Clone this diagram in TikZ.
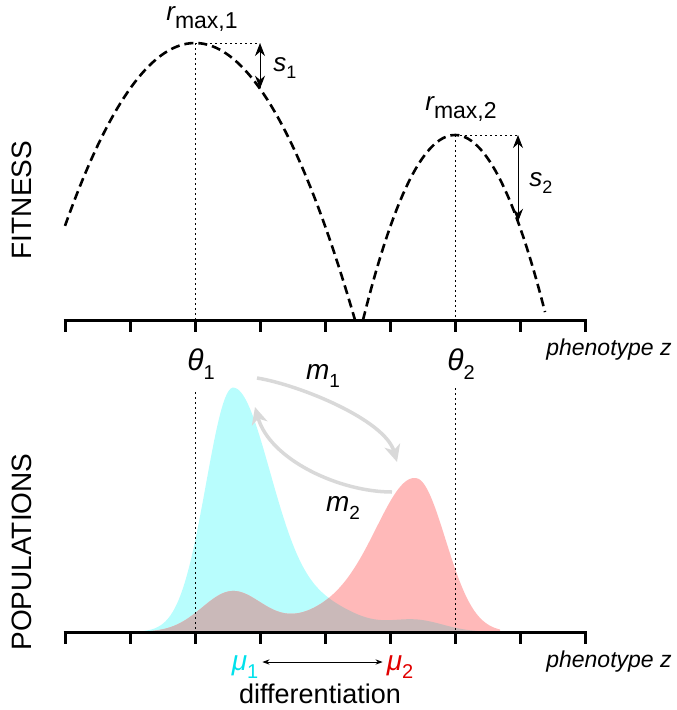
\documentclass[tikz,border=0pt]{standalone}
\usepackage{fontspec}
\setmainfont{Liberation Sans}
\usepackage{tikz}
\usetikzlibrary{arrows.meta}
\usetikzlibrary{calc}

\definecolor{popcyan}{RGB}{184,253,253}
\definecolor{poppink}{RGB}{255,185,185}
\definecolor{popmix}{RGB}{202,185,185}
\definecolor{mucyan}{RGB}{0,225,235}
\definecolor{mured}{RGB}{225,0,0}

% one gaussian bump: x, mean, sd, height
\pgfmathdeclarefunction{bump}{4}{\pgfmathparse{#4*exp(-min(((#1-#2)/#3)^2/2,20))}}
% the two populations (height above the axis)
\pgfmathdeclarefunction{cy}{1}{\pgfmathparse{bump(#1,233,ifthenelse(#1<233,27,39),244)+bump(#1,328,33,22)+bump(#1,415,28,12)}}
\pgfmathdeclarefunction{pk}{1}{\pgfmathparse{bump(#1,417,ifthenelse(#1<417,39,29),147)+bump(#1,345,45,24)+bump(#1,232,30,40)}}

% italic letter with upright subscript
\newcommand{\ilbl}[3]{{\itshape #1}\raisebox{-0.3em}{\fontsize{#3}{#3}\selectfont #2}}

\begin{document}
\begin{tikzpicture}[ x=1pt, y=-1pt, >=Stealth,
      axis/.style={line width=3pt},
      fitcurve/.style={line width=2.6pt, dash pattern=on 9pt off 5pt},
      guide/.style={line width=1pt, dash pattern=on 2pt off 3pt},
      sarr/.style={line width=0.9pt, {Stealth[length=13pt,width=10pt]}-{Stealth[length=13pt,width=10pt]}},
      migr/.style={line width=3.5pt, black!15, -{Stealth[length=17pt,width=16pt,inset=5pt]}},
      every node/.style={inner sep=0pt} ]

      \useasboundingbox (0,0) rectangle (677,710);

      % Side labels
      \node[rotate=90, font=\fontsize{28}{30}\selectfont] (fitlbl) at (22,200) {FITNESS};
      \node[rotate=90, font=\fontsize{28}{30}\selectfont] (poplbl) at (22,552) {POPULATIONS};

      % Populations
      \fill[popcyan] plot[domain=140:500, samples=200] (\x,{632-cy(\x)})
      -- (500,632) -- (140,632) -- cycle;
      \fill[poppink] plot[domain=140:500, samples=200] (\x,{632-pk(\x)})
      -- (500,632) -- (140,632) -- cycle;
      \begin{scope}
        \clip plot[domain=140:500, samples=200] (\x,{632-cy(\x)})
        -- (500,632) -- (140,632) -- cycle;
        \fill[popmix] plot[domain=140:500, samples=200] (\x,{632-pk(\x)})
        -- (500,632) -- (140,632) -- cycle;
      \end{scope}

      % Fitness curves
      \draw[fitcurve] plot[domain=65:355, samples=80] (\x,{43+1.082*((\x-195)/10)^2});
      \draw[fitcurve] plot[domain=363:545, samples=60] (\x,{135+2.186*((\x-455)/10)^2});

      % Optima and guides
      \coordinate (top1) at (195,43); \coordinate (top2) at (455,135);
      \coordinate (s1a) at (260,43); \coordinate (s1b) at (260,88.7);
      \coordinate (s2a) at (518,135); \coordinate (s2b) at (518,221.8);
      \draw[guide] (top1) -- (195,320); \draw[guide] (top2) -- (455,320);
      \draw[guide] (top1) -- (s1a); \draw[guide] (top2) -- (s2a);
      \draw[guide] (195,392) -- (195,632); \draw[guide] (455,388) -- (455,632);
      \draw[sarr] (s1a) -- (s1b); \draw[sarr] (s2a) -- (s2b);

      \node[font=\fontsize{26}{30}\selectfont] (rmax1) at (202,19) {\ilbl{r}{max,1}{23}};
      \node[font=\fontsize{26}{30}\selectfont] (rmax2) at (461,109) {\ilbl{r}{max,2}{23}};
      \node[font=\fontsize{26}{30}\selectfont] (s1) at (285,68) {\ilbl{s}{1}{18}};
      \node[font=\fontsize{26}{30}\selectfont] (s2) at (541,183) {\ilbl{s}{2}{18}};

      % Axes
      \draw[axis] (63.5,320) -- (586.5,320);
      \draw[axis] (63.5,632) -- (586.5,632);
      \foreach \t in {0,...,8} {
        \draw[axis] ({65+65*\t},320) -- ++(0,12);
        \draw[axis] ({65+65*\t},632) -- ++(0,12);
      }
      \node[font=\fontsize{23}{26}\selectfont\itshape] (ph1) at (609,350) {phenotype z};
      \node[font=\fontsize{23}{26}\selectfont\itshape] (ph2) at (609,662) {phenotype z};
      \node[font=\fontsize{30}{32}\selectfont] (th1) at (201,364) {\ilbl{θ}{1}{20}};
      \node[font=\fontsize{30}{32}\selectfont] (th2) at (461,364) {\ilbl{θ}{2}{20}};

      % Migration
      \coordinate (m1s) at (257,378); \coordinate (m1e) at (397,462);
      \coordinate (m2s) at (392,492); \coordinate (m2e) at (255,407);
      \draw[migr] (m1s) .. controls (300,385) and (385,420) .. (m1e);
      \draw[migr] (m2s) .. controls (340,492) and (270,460) .. (m2e);
      \node[font=\fontsize{28}{30}\selectfont] (m1) at (323,376) {\ilbl{m}{1}{19}};
      \node[font=\fontsize{28}{30}\selectfont] (m2) at (343,508) {\ilbl{m}{2}{19}};

      % Differentiation
      \node[font=\fontsize{28}{30}\selectfont, mucyan] (mu1) at (245,667) {\ilbl{μ}{1}{20}};
      \node[font=\fontsize{28}{30}\selectfont, mured] (mu2) at (400,667) {\ilbl{μ}{2}{20}};
      \draw[<->, line width=0.9pt] ([xshift=4pt,yshift=5pt]mu1.east) -- ([xshift=-4pt,yshift=5pt]mu2.west);
      \node[font=\fontsize{27}{30}\selectfont] (diff) at (320,694) {differentiation};
    \end{tikzpicture}
\end{document}
